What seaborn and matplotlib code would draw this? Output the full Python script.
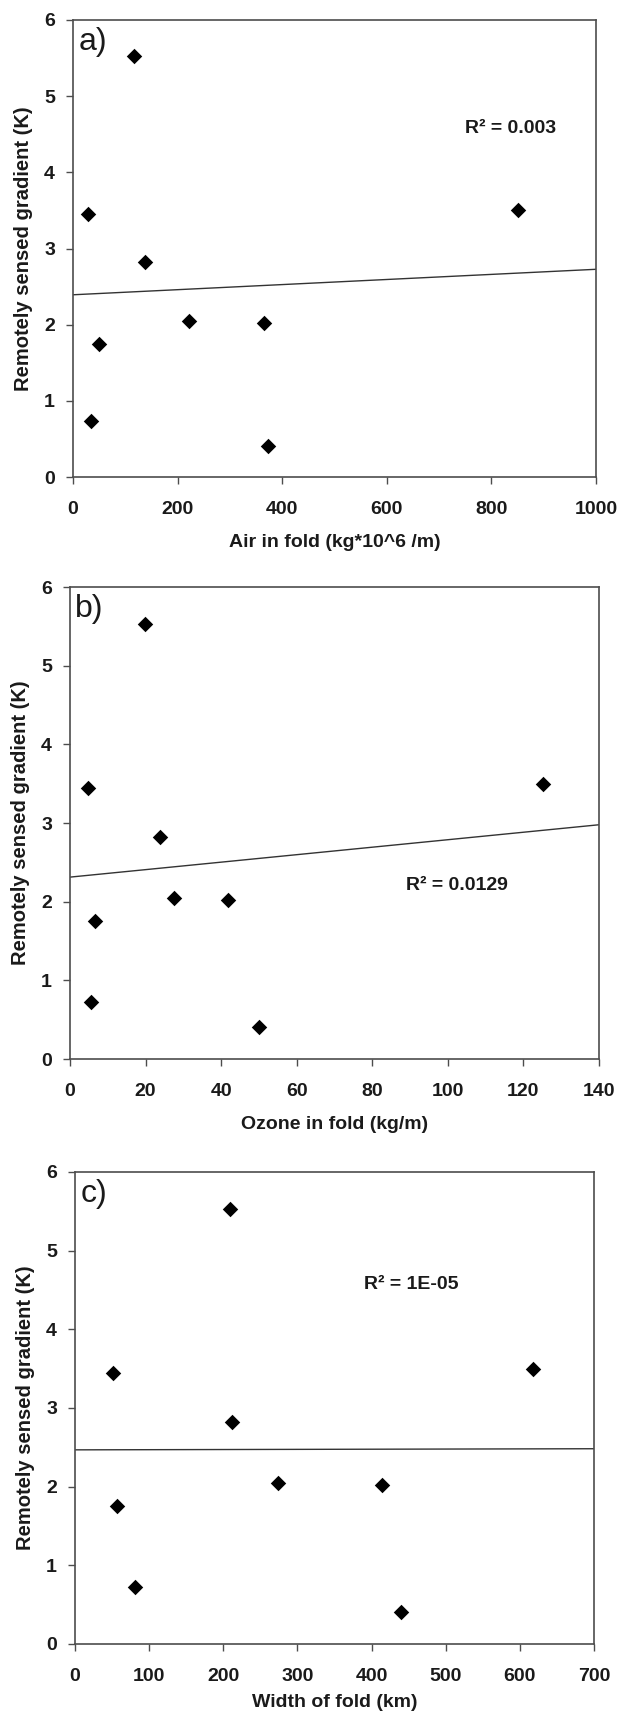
import matplotlib
matplotlib.use("Agg")
import matplotlib.pyplot as plt
import seaborn as sns
import pandas as pd

# ---- data ----
gradient = [3.45, 5.53, 2.82, 1.75, 0.73, 2.05, 2.02, 0.41, 3.50]
air_in_fold = [29.5, 117, 138.5, 49, 34, 222, 365, 372, 850]
ozone_in_fold = [4.8, 19.9, 23.9, 6.6, 5.5, 27.5, 41.9, 50.0, 125.2]
width_of_fold = [51.7, 209.4, 212, 57, 81, 273.3, 413.4, 439.5, 618]

panel_letters = ["a)", "b)", "c)"]
x_labels = ["Air in fold (kg*10^6 /m)", "Ozone in fold (kg/m)", "Width of fold (km)"]
y_label = "Remotely sensed gradient (K)"
r2_texts = ["R² = 0.003", "R² = 0.0129", "R² = 1E-05"]
x_limits = [(0, 1000), (0, 140), (0, 700)]
x_ticks = [[0, 200, 400, 600, 800, 1000],
           [0, 20, 40, 60, 80, 100, 120, 140],
           [0, 100, 200, 300, 400, 500, 600, 700]]
y_ticks = [0, 1, 2, 3, 4, 5, 6]
r2_pos = [(749, 4.57), (89, 2.2), (390, 4.57)]

sns.set_theme(style="ticks")
plt.rcParams['font.family'] = ['Liberation Sans', 'DejaVu Sans']

W, H = 619, 1716
fig = plt.figure(figsize=(W / 100, H / 100), dpi=100)
# axes boxes in pixels: left, right, top, bottom
boxes = [(73, 596, 20, 477), (70, 599, 587, 1059), (75, 594, 1172, 1644)]
xlabel_pads = [12, 12, 7]

xs_all = [air_in_fold, ozone_in_fold, width_of_fold]
txt_color = "#1a1a1a"
spine_color = "#4d4d4d"

for i in range(3):
    l, r, t, b = boxes[i]
    ax = fig.add_axes([l / W, 1 - b / H, (r - l) / W, (b - t) / H])
    df = pd.DataFrame({"x": xs_all[i], "y": gradient})
    ax.set_xlim(*x_limits[i])
    ax.set_ylim(0, 6)
    sns.regplot(data=df, x="x", y="y", ax=ax, scatter=False, ci=None,
                truncate=False, line_kws=dict(color="#333333", lw=1.0))
    sns.scatterplot(data=df, x="x", y="y", ax=ax, marker="D", s=62,
                    color="black", edgecolor="black", linewidth=0, zorder=3)
    ax.set_xlim(*x_limits[i])
    ax.set_ylim(0, 6)
    ax.set_xticks(x_ticks[i])
    ax.set_yticks(y_ticks)
    for sp in ax.spines.values():
        sp.set_visible(True)
        sp.set_color(spine_color)
        sp.set_linewidth(1.2)
    ax.tick_params(axis="both", direction="out", length=5, width=1.0,
                   color=spine_color, labelsize=14, labelcolor=txt_color)
    ax.tick_params(axis="x", pad=12)
    ax.tick_params(axis="y", pad=8)
    for lab in ax.get_xticklabels() + ax.get_yticklabels():
        lab.set_fontweight("bold")
    ax.set_xlabel(x_labels[i], fontsize=14, fontweight="bold", color=txt_color,
                  labelpad=xlabel_pads[i])
    ax.set_ylabel(y_label, fontsize=14.5, fontweight="bold", color=txt_color, labelpad=8)
    ax.text(0.01, 0.985, panel_letters[i], transform=ax.transAxes, fontsize=23,
            va="top", ha="left", color=txt_color)
    ax.text(r2_pos[i][0], r2_pos[i][1], r2_texts[i], fontsize=14, fontweight="bold",
            color=txt_color, va="center", ha="left")

fig.savefig("out.png", dpi=100)
